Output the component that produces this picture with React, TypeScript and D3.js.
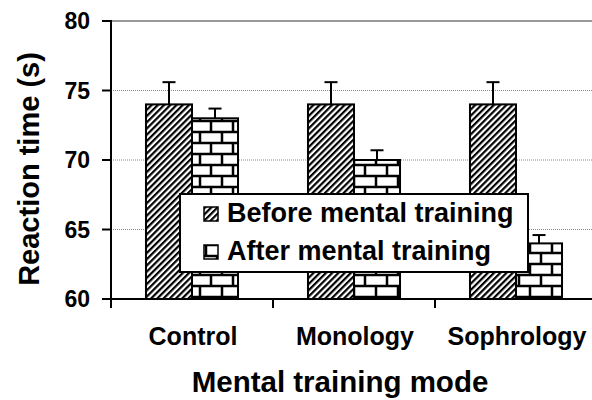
import * as d3 from 'd3'

const categories = ['Control', 'Monology', 'Sophrology']
const seriesNames = ['Before mental training', 'After mental training']
const beforeValues = [74, 74, 74]
const beforeErrors = [1.6, 1.6, 1.6]
const afterValues = [73, 70, 64]
const afterErrors = [0.7, 0.7, 0.6]
const yTicks = [60, 65, 70, 75, 80]

const width = 592
const height = 400
const margin = { top: 21, right: -5, bottom: 101, left: 111 }
const font = '"Liberation Sans", Arial, sans-serif'

export default function App() {
  const x = d3.scaleBand()
    .domain(categories)
    .range([margin.left, width - margin.right])
  const xInner = d3.scaleBand()
    .domain(seriesNames)
    .range([0, x.bandwidth()])
    .paddingOuter(0.76)
  const y = d3.scaleLinear()
    .domain([60, 80])
    .range([height - margin.bottom, margin.top])

  const series = [
    { name: seriesNames[0], values: beforeValues, errors: beforeErrors, fill: 'url(#hatch)' },
    { name: seriesNames[1], values: afterValues, errors: afterErrors, fill: 'url(#brick)' }
  ]

  const x0 = margin.left
  const x1 = width - margin.right
  const yBase = y(60)
  const xTickPos = [...categories.map(c => x(c)!), x1]

  return (
    <svg width={width} height={height} style={{ position: 'absolute', left: 0, top: 0, background: '#fff' }}>
      <defs>
        <pattern id="hatch" patternUnits="userSpaceOnUse" width="4.4" height="4.4" patternTransform="rotate(45)">
          <rect width="4.4" height="4.4" fill="#fff" />
          <rect width="2.2" height="4.4" fill="#000" />
        </pattern>
        <pattern id="brick" patternUnits="userSpaceOnUse" width="22" height="22">
          <rect width="22" height="22" fill="#fff" />
          <path d="M0 0H22M0 11H22M0 22H22M2 0V11M13 11V22" stroke="#000" strokeWidth="2.5" />
        </pattern>
      </defs>

      {/* gridlines */}
      {yTicks.filter(t => t > 60).map(t => (
        <line key={t} x1={x0} x2={x1} y1={y(t)} y2={y(t)}
          stroke={t === 80 ? '#999' : '#888'}
          strokeWidth={t === 80 ? 2 : 1}
          strokeDasharray={t === 80 ? undefined : '1 1'} />
      ))}

      {/* bars */}
      {series.map(s => categories.map((c, i) => {
        const bx = x(c)! + xInner(s.name)!
        const bw = xInner.bandwidth()
        const top = y(s.values[i])
        const cx = bx + bw / 2
        const ey = y(s.values[i] + s.errors[i])
        return (
          <g key={s.name + c}>
            <rect x={bx} y={top} width={bw} height={yBase - top} fill={s.fill} stroke="#000" strokeWidth={2} />
            <line x1={cx} x2={cx} y1={top} y2={ey} stroke="#000" strokeWidth={2} />
            <line x1={cx - 6.5} x2={cx + 6.5} y1={ey} y2={ey} stroke="#000" strokeWidth={2} />
          </g>
        )
      }))}

      {/* y axis */}
      <line x1={x0} x2={x0} y1={y(80) - 1} y2={yBase + 9} stroke="#000" strokeWidth={2} />
      {yTicks.map(t => (
        <g key={t}>
          <line x1={x0 - 9} x2={x0} y1={y(t)} y2={y(t)} stroke="#000" strokeWidth={2} />
          <text x={90} y={y(t)} dy="0.36em" textAnchor="end" fontFamily={font} fontWeight="bold" fontSize={23}>{t}</text>
        </g>
      ))}

      {/* x axis */}
      <line x1={x0 - 9} x2={x1} y1={yBase} y2={yBase} stroke="#000" strokeWidth={2} />
      {xTickPos.map((p, i) => (
        <line key={i} x1={p} x2={p} y1={yBase} y2={yBase + 9} stroke="#000" strokeWidth={2} />
      ))}
      {categories.map(c => (
        <text key={c} x={x(c)! + x.bandwidth() / 2 + 1} y={345} textAnchor="middle" fontFamily={font} fontWeight="bold" fontSize={25}>{c}</text>
      ))}

      {/* axis titles */}
      <text x={340} y={392} textAnchor="middle" fontFamily={font} fontWeight="bold" fontSize={29.5}>Mental training mode</text>
      <text transform={`translate(39, 169) rotate(-90)`} textAnchor="middle" fontFamily={font} fontWeight="bold" fontSize={29}>Reaction time (s)</text>

      {/* legend */}
      <g>
        <rect x={180} y={194} width={348} height={78} fill="#fff" stroke="#000" strokeWidth={2} />
        {series.map((s, i) => (
          <g key={s.name} transform={`translate(204, ${207 + i * 38})`}>
            <rect width={14} height={14} fill={s.fill} stroke="#000" strokeWidth={1.5} />
            <text x={23} y={15} fontFamily={font} fontWeight="bold" fontSize={27}>{s.name}</text>
          </g>
        ))}
      </g>
    </svg>
  )
}
